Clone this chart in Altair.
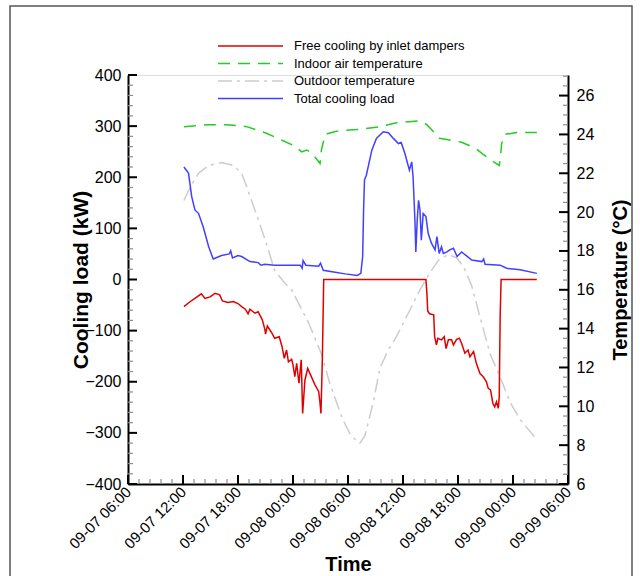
import altair as alt
import pandas as pd
import numpy as np

FONT = "Liberation Sans"

# hours after 09-07 00:00
free_h = [12.1, 12.8, 13.3, 14.0, 14.4, 14.95, 15.5, 16.0, 16.3, 16.9, 17.5, 18.0, 18.4, 18.8, 19.1,
          19.3, 19.85, 20.2, 20.65, 20.95, 21.0, 21.2, 21.7, 22.0, 22.5, 22.8, 23.05, 23.3, 23.5, 23.85,
          24.0, 24.2, 24.4, 24.65, 24.9, 25.05, 25.3, 25.6, 26.0, 26.4, 26.8, 26.95, 27.05, 27.2, 27.35,
          38.5, 38.6, 38.7, 38.9, 39.35, 39.45, 39.65, 39.8, 40.2, 40.5, 40.7, 40.95, 41.3, 41.5, 41.85,
          42.15, 42.4, 42.75, 43.1, 43.3, 43.7, 44.0, 44.4, 44.75, 45.1, 45.3, 45.55, 45.8, 46.0, 46.2,
          46.4, 46.5, 46.6, 46.7, 50.6]
free_v = [-53, -43, -37, -28, -37, -34, -27, -30, -42, -45, -43, -47, -53, -58, -67,
          -58, -66, -63, -79, -99, -107, -91, -105, -115, -112, -131, -154, -138, -161, -156,
          -167, -190, -164, -203, -157, -262, -197, -174, -190, -206, -219, -242, -262, -157, 0,
          0, -25, -62, -67, -69, -112, -128, -115, -118, -112, -135, -118, -118, -128, -117,
          -115, -125, -144, -138, -151, -141, -164, -184, -190, -200, -213, -216, -242, -249, -239,
          -252, -229, -73, 0, 0]

load_h = [12.1, 12.6, 12.95, 13.3, 13.7, 14.2, 14.8, 15.3, 16.2, 17.05, 17.2, 17.4, 18.0, 18.4, 19.3,
          20.2, 20.5, 20.9, 22.0, 23.9, 24.8, 25.0, 25.1, 25.4, 26.8, 27.0, 27.3, 28.6, 29.7, 31.0,
          31.4, 31.6, 31.7, 31.8, 32.0, 32.6, 33.1, 33.85, 34.4, 34.95, 35.5, 35.8, 36.2, 36.7, 36.95,
          37.1, 37.3, 37.4, 37.55, 37.7, 37.85, 38.0, 38.2, 38.5, 38.75, 39.1, 39.5, 39.7, 39.95, 40.2,
          40.4, 40.8, 41.1, 41.5, 41.9, 42.4, 42.8, 43.5, 44.6, 44.8, 44.95, 46.6, 47.3, 48.8, 50.6]
load_v = [220, 208, 162, 136, 129, 103, 64, 40, 47, 50, 56, 42, 47, 45, 35,
          33, 28, 30, 28, 28, 28, 22, 37, 28, 26, 32, 18, 14, 11, 8,
          12, 45, 136, 195, 204, 253, 276, 289, 287, 276, 266, 268, 247, 214, 230,
          201, 116, 54, 116, 155, 136, 77, 129, 123, 90, 71, 58, 84, 51, 64,
          51, 54, 58, 61, 45, 54, 48, 38, 35, 40, 30, 28, 22, 19, 12]

indoor_h = [12.1, 14.8, 16.8, 18.95, 20.9, 22.8, 24.2, 24.95, 25.5, 26.05, 26.95, 27.1, 27.5, 28.2, 29.1,
            30.95, 33.5, 35.3, 37.7, 38.6, 39.1, 40.0, 40.6, 41.7, 42.4, 43.85, 44.75, 45.85, 46.5, 46.65,
            46.75, 47.1, 48.4, 50.6]
indoor_v = [24.4, 24.5, 24.5, 24.4, 24.1, 23.7, 23.4, 23.1, 23.2, 23.05, 22.5, 23.2, 24.0, 24.1, 24.2,
            24.25, 24.4, 24.6, 24.7, 24.5, 24.25, 23.8, 23.75, 23.66, 23.6, 23.3, 22.97, 22.6, 22.4, 22.9,
            23.5, 24.0, 24.1, 24.1]

outdoor_h = [12.1, 12.8, 13.7, 14.8, 16.2, 17.5, 18.4, 18.95, 19.85, 20.95, 22.0, 23.0, 23.85, 25.7, 27.1,
             28.0, 29.35, 30.2, 30.95, 31.3, 31.85, 32.75, 33.5, 34.4, 35.3, 36.8, 37.85, 38.95, 40.0, 40.95,
             41.85, 42.6, 43.5, 44.4, 45.5, 46.6, 47.7, 48.8, 50.4]
outdoor_v = [20.6, 21.3, 22.0, 22.4, 22.55, 22.4, 22.0, 21.3, 20.1, 18.6, 17.0, 16.4, 16.0, 14.3, 12.7,
             11.2, 9.4, 8.6, 8.2, 8.1, 8.5, 10.2, 12.0, 12.9, 13.6, 15.0, 16.0, 16.9, 17.6, 17.8,
             17.65, 17.2, 16.2, 14.6, 12.7, 11.5, 10.2, 9.3, 8.4]

series_names = ["Free cooling by inlet dampers", "Indoor air temperature",
                "Outdoor temperature", "Total cooling load"]
series_colors = ["#e00000", "#22cc22", "#cccccc", "#4040ff"]
series_dashes = [None, [12, 8], [14, 5, 3, 5], None]

x_label_hours = [6, 12, 18, 24, 30, 36, 42, 48, 54]
left_labels = [-400, -300, -200, -100, 0, 100, 200, 300, 400]
right_labels = [6, 8, 10, 12, 14, 16, 18, 20, 22, 24, 26]

BASE = pd.Timestamp("2021-09-07 00:00")
W, H = 440, 409


def to_time(hours):
    return [BASE + pd.Timedelta(hours=float(h)) for h in hours]


def dt(h):
    ts = BASE + pd.Timedelta(hours=h)
    return alt.DateTime(year=ts.year, month=ts.month, date=ts.day, hours=ts.hour, minutes=ts.minute)


x_enc = alt.X(
    "t:T",
    scale=alt.Scale(domain=[dt(6), dt(54)]),
    axis=alt.Axis(values=[dt(h) for h in x_label_hours], format="%m-%d %H:%M",
                  labelAngle=315, labelAlign="right", labelBaseline="middle",
                  labelPadding=5, labelFontSize=15, labelOverlap=False, labelFlush=False,
                  ticks=False, grid=False, domainColor="black", domainWidth=2,
                  title="Time", titleFontSize=20, titleFontWeight="bold",
                  titleX=W / 2, titleY=80, titleAlign="center", titleBaseline="middle"),
)

left_y = alt.Y(
    "v:Q",
    scale=alt.Scale(domain=[-400, 400], nice=False, zero=False),
    axis=alt.Axis(values=left_labels, ticks=False, grid=False, labelPadding=7, labelFontSize=16,
                  domainColor="black", domainWidth=2, title="Cooling load (kW)",
                  titleFontSize=21, titleFontWeight="bold", titleAngle=270,
                  titleX=-47, titleY=H / 2, titleAlign="center", titleBaseline="middle"),
)

right_y = alt.Y(
    "v:Q",
    scale=alt.Scale(domain=[6, 27.06], nice=False, zero=False),
    axis=alt.Axis(orient="right", values=right_labels, ticks=False, grid=False, labelPadding=8,
                  labelFontSize=16, domainColor="black", domainWidth=2, title="Temperature (°C)",
                  titleFontSize=20, titleFontWeight="bold", titleAngle=270,
                  titleX=52, titleY=H / 2, titleAlign="center", titleBaseline="middle"),
)


def line(h, v, idx, y_enc):
    df = pd.DataFrame({"t": to_time(h), "v": v})
    kw = dict(color=series_colors[idx], strokeWidth=1.5)
    if series_dashes[idx] is not None:
        kw["strokeDash"] = series_dashes[idx]
    return alt.Chart(df).mark_line(**kw).encode(x=x_enc, y=y_enc)


# axis tick positions (ticks point into the plot)
x_major = [6 + 6 * i for i in range(9)]
x_minor = [6 + 1.2 * i for i in range(41) if i % 5 != 0]
l_major = left_labels
l_minor = [v for v in range(-400, 401, 20) if v % 100 != 0]
r_major = right_labels
r_minor = [6 + 0.5 * i for i in range(43) if i % 4 != 0]

xt_major = alt.Chart(pd.DataFrame({"t": to_time(x_major)})).mark_rule(color="black", strokeWidth=2).encode(
    x=x_enc, y=alt.value(H), y2=alt.value(H - 9))
xt_minor = alt.Chart(pd.DataFrame({"t": to_time(x_minor)})).mark_rule(color="#8c8c8c", strokeWidth=1.2).encode(
    x=x_enc, y=alt.value(H), y2=alt.value(H - 5))
lt_major = alt.Chart(pd.DataFrame({"v": l_major})).mark_rule(color="black", strokeWidth=2).encode(
    y=left_y, x=alt.value(0), x2=alt.value(9))
lt_minor = alt.Chart(pd.DataFrame({"v": l_minor})).mark_rule(color="#8c8c8c", strokeWidth=1.2).encode(
    y=left_y, x=alt.value(0), x2=alt.value(5))
rt_major = alt.Chart(pd.DataFrame({"v": r_major})).mark_rule(color="black", strokeWidth=2).encode(
    y=right_y, x=alt.value(W), x2=alt.value(W - 9))
rt_minor = alt.Chart(pd.DataFrame({"v": r_minor})).mark_rule(color="#8c8c8c", strokeWidth=1.2).encode(
    y=right_y, x=alt.value(W), x2=alt.value(W - 5))

left_group = alt.layer(
    line(load_h, load_v, 3, left_y),
    line(free_h, free_v, 0, left_y),
    lt_minor, lt_major, xt_minor, xt_major,
)
right_group = alt.layer(
    line(outdoor_h, outdoor_v, 2, right_y),
    line(indoor_h, indoor_v, 1, right_y),
    rt_minor, rt_major,
)

one = pd.DataFrame({"a": [0]})
legend_layers = []
for i, name in enumerate(series_names):
    yy = -29 + 17.5 * i
    kw = dict(color=series_colors[i], strokeWidth=1.5)
    if series_dashes[i] is not None:
        kw["strokeDash"] = series_dashes[i]
    legend_layers.append(alt.Chart(one).mark_rule(**kw).encode(
        x=alt.value(90), x2=alt.value(155), y=alt.value(yy)))
    legend_layers.append(alt.Chart(one).mark_text(
        align="left", baseline="middle", fontSize=13, font=FONT, color="black").encode(
        x=alt.value(166), y=alt.value(yy), text=alt.value(name)))

frame = alt.Chart(one).mark_rect(fillOpacity=0, stroke="#555555", strokeWidth=1.5).encode(
    x=alt.value(-118), x2=alt.value(504), y=alt.value(-69), y2=alt.value(520))

chart = alt.layer(
    frame,
    alt.layer(right_group, left_group).resolve_scale(y="independent"),
    *legend_layers,
).properties(
    width=W, height=H,
    padding={"left": 128, "top": 75, "right": 72, "bottom": 92},
    autosize=alt.AutoSizeParams(type="none"),
).configure_view(stroke=None).configure_axis(
    labelFont=FONT, titleFont=FONT, labelColor="black", titleColor="black"
).configure(background="white")

chart.save("out.html", embed_options={"renderer": "svg", "actions": False})
